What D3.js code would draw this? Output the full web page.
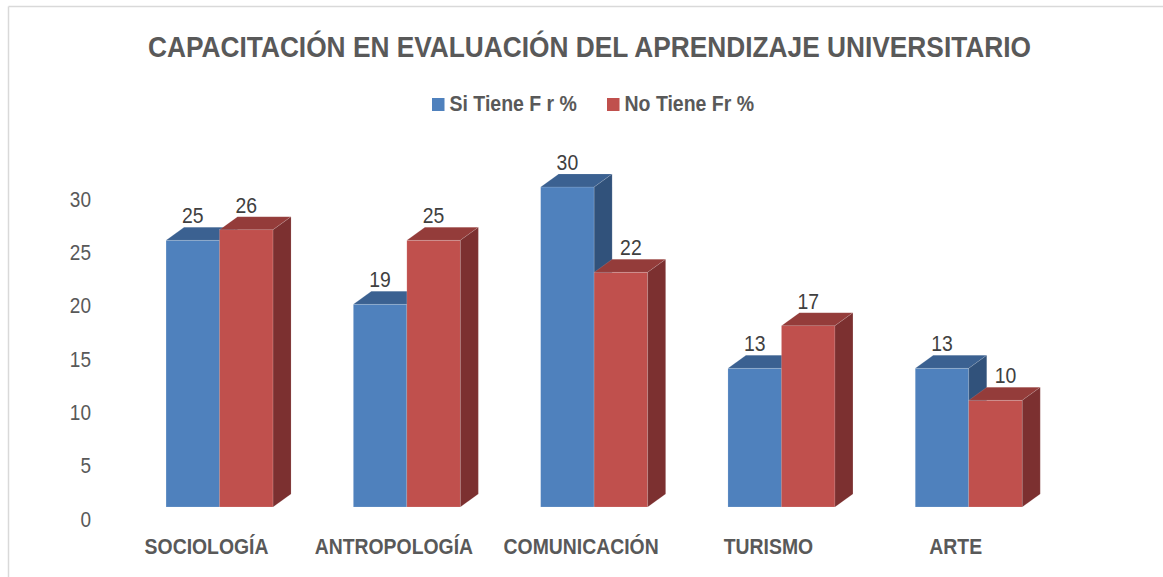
<!DOCTYPE html>
<html>
<head>
<meta charset="utf-8">
<script src="https://cdn.jsdelivr.net/npm/d3@7"></script>
<style>
  html, body { margin: 0; padding: 0; background: #ffffff; }
  svg { display: block; font-family: "Liberation Sans", Arial, sans-serif; }
</style>
</head>
<body>
<svg id="chart" width="1163" height="577"></svg>
<script>
const title = "CAPACITACIÓN EN EVALUACIÓN DEL APRENDIZAJE UNIVERSITARIO";
const categories = ["SOCIOLOGÍA", "ANTROPOLOGÍA", "COMUNICACIÓN", "TURISMO", "ARTE"];
const seriesNames = ["Si Tiene F r %", "No Tiene Fr %"];
const siTiene = [25, 19, 30, 13, 13];
const noTiene = [26, 25, 22, 17, 10];
const yTicks = [0, 5, 10, 15, 20, 25, 30];

const seriesValues = [siTiene, noTiene];
const faceColors = [
  { front: "#4f81bd", top: "#3b6191", side: "#31527b" },
  { front: "#c0504d", top: "#943c3a", side: "#7c3030" }
];

const svg = d3.select("#chart");
const VS = 1.15; // vertical text stretch of the reference
const depthX = 18, depthY = -13;

// frame (only top and left edges visible)
svg.append("line").attr("x1", 8.5).attr("y1", 6.5).attr("x2", 1163).attr("y2", 6.5)
  .attr("stroke", "#d9d9d9").attr("stroke-width", 1.5);
svg.append("line").attr("x1", 8.5).attr("y1", 6.5).attr("x2", 8.5).attr("y2", 577)
  .attr("stroke", "#d9d9d9").attr("stroke-width", 1.5);

function stretchedText(g, x, y, txt) {
  return g.append("text")
    .attr("transform", `translate(${x},${y}) scale(1,${VS})`)
    .text(txt);
}

// scales
const y = d3.scaleLinear().domain([0, 30]).range([507, 187]);
const x0 = d3.scaleBand().domain(categories).range([125.9, 1062.4])
  .paddingInner(0.4287).paddingOuter(0.21435);
const x1 = d3.scaleBand().domain(seriesNames).range([0, x0.bandwidth()]).padding(0);

// title
stretchedText(svg, 589.5, 56.5, title)
  .attr("text-anchor", "middle").attr("font-size", 26).attr("font-weight", "bold")
  .attr("fill", "#595959")
  .attr("textLength", 883).attr("lengthAdjust", "spacingAndGlyphs");

// legend
const legendItems = [
  { name: seriesNames[0], color: faceColors[0].front, x: 432 },
  { name: seriesNames[1], color: faceColors[1].front, x: 607 }
];
legendItems.forEach(it => {
  svg.append("rect").attr("x", it.x).attr("y", 98).attr("width", 12.5).attr("height", 13)
    .attr("fill", it.color);
  stretchedText(svg, it.x + 17.5, 111, it.name)
    .attr("font-size", 19.5).attr("font-weight", "bold").attr("fill", "#595959");
});

// y axis tick labels (on the back wall, offset from the front faces)
const axisG = svg.append("g");
yTicks.forEach(t => {
  stretchedText(axisG, 91, y(t) + 19.7, String(t))
    .attr("text-anchor", "end").attr("font-size", 19).attr("fill", "#595959");
});

// bars
const barsG = svg.append("g");
categories.forEach((c, ci) => {
  seriesNames.forEach((s, si) => {
    const v = seriesValues[si][ci];
    const bx = x0(c) + x1(s);
    const bw = x1.bandwidth();
    const top = y(v), base = y(0);
    const col = faceColors[si];
    // front
    barsG.append("rect").attr("x", bx).attr("y", top).attr("width", bw).attr("height", base - top)
      .attr("fill", col.front).attr("stroke", "rgba(255,255,255,0.25)").attr("stroke-width", 0.6);
    // top
    barsG.append("path")
      .attr("d", `M${bx},${top} L${bx + depthX},${top + depthY} L${bx + bw + depthX},${top + depthY} L${bx + bw},${top} Z`)
      .attr("fill", col.top).attr("stroke", "rgba(255,255,255,0.2)").attr("stroke-width", 0.6);
    // side
    barsG.append("path")
      .attr("d", `M${bx + bw},${top} L${bx + bw + depthX},${top + depthY} L${bx + bw + depthX},${base + depthY} L${bx + bw},${base} Z`)
      .attr("fill", col.side).attr("stroke", "rgba(255,255,255,0.2)").attr("stroke-width", 0.6);
  });
});

// data labels
const labelsG = svg.append("g");
categories.forEach((c, ci) => {
  seriesNames.forEach((s, si) => {
    const v = seriesValues[si][ci];
    // second-series labels next to a taller first bar sit over the top face
    const shifted = si === 1 && v < seriesValues[0][ci];
    const cx = x0(c) + x1(s) + x1.bandwidth() / 2 + (shifted ? 10 : 0);
    stretchedText(labelsG, cx, y(v) + depthY - (shifted ? 4 : 4), String(v))
      .attr("text-anchor", "middle").attr("font-size", 19.4).attr("fill", "#404040");
  });
});

// category labels
const catG = svg.append("g");
categories.forEach(c => {
  stretchedText(catG, x0(c) + x0.bandwidth() / 2 - 13, 553.5, c)
    .attr("text-anchor", "middle").attr("font-size", 19.4).attr("font-weight", "bold")
    .attr("fill", "#595959");
});
</script>
</body>
</html>
